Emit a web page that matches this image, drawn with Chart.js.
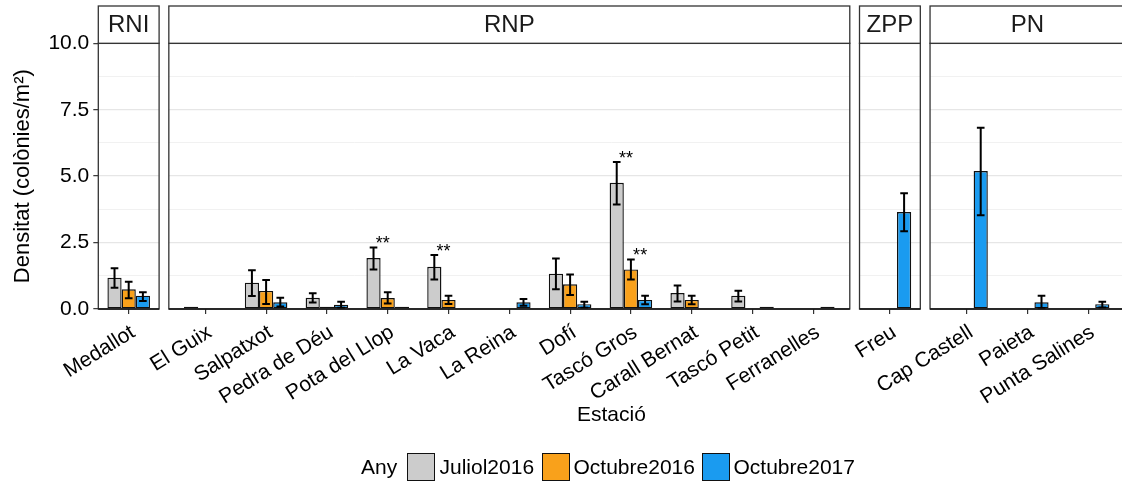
<!DOCTYPE html>
<html>
<head>
<meta charset="utf-8">
<script src="https://cdn.jsdelivr.net/npm/chart.js@4/dist/chart.umd.min.js"></script>
<style>
html,body{margin:0;padding:0;background:#fff;overflow:hidden;width:1122px;height:483px;}
#wrap{position:relative;width:1122px;height:483px;overflow:hidden;font-family:'Liberation Sans',Arial,sans-serif;}
#c{position:absolute;left:0;top:0;width:1130px;height:483px;}
.t{position:absolute;font-size:21px;line-height:24px;color:#000;white-space:nowrap;}
.k{position:absolute;width:28px;height:28px;box-sizing:border-box;border:1.6px solid #111;}
</style>
</head>
<body>
<div id="wrap">
<canvas id="c" width="1130" height="483"></canvas>
<div class="t" style="left:361px;top:455px;">Any</div>
<div class="k" style="left:406.5px;top:452.5px;background:#CCCCCC;"></div>
<div class="t" style="left:439.5px;top:455px;">Juliol2016</div>
<div class="k" style="left:542px;top:452.5px;background:#F9A11B;"></div>
<div class="t" style="left:573.5px;top:455px;">Octubre2016</div>
<div class="k" style="left:701.5px;top:452.5px;background:#1A9BF0;"></div>
<div class="t" style="left:733.5px;top:455px;">Octubre2017</div>
</div>
<script>
// ---------------- DATA ----------------
const stations = ['Medallot','El Guix','Salpatxot','Pedra de Déu','Pota del Llop','La Vaca','La Reina','Dofí','Tascó Gros','Carall Bernat','Tascó Petit','Ferranelles','Freu','Cap Castell','Paieta','Punta Salines'];
const stationPanel = ['RNI','RNP','RNP','RNP','RNP','RNP','RNP','RNP','RNP','RNP','RNP','RNP','ZPP','PN','PN','PN'];
const panelNames = ['RNI','RNP','ZPP','PN'];
const seriesNames = ['Juliol2016','Octubre2016','Octubre2017'];

const juliol2016     = [1.18, 0.08, 0.99, 0.42, 1.92, 1.59, null, 1.33, 4.75, 0.60, 0.50, null, null, null, null, null];
const juliol2016Low  = [0.80, null, 0.49, 0.24, 1.49, 1.11, null, 0.74, 3.93, 0.28, 0.28, null, null, null, null, null];
const juliol2016High = [1.53, null, 1.46, 0.59, 2.31, 2.03, null, 1.90, 5.53, 0.88, 0.69, null, null, null, null, null];
const juliol2016Sig  = ['', '', '', '', '**', '**', '', '', '**', '', '', '', '', '', '', ''];

const octubre2016     = [0.74, null, 0.68, 0.08, 0.41, 0.34, null, 0.93, 1.49, 0.34, null, null, null, null, null, null];
const octubre2016Low  = [0.40, null, 0.19, null, 0.21, 0.19, null, 0.53, 1.11, 0.18, null, null, null, null, null, null];
const octubre2016High = [1.03, null, 1.09, null, 0.63, 0.50, null, 1.30, 1.86, 0.50, null, null, null, null, null, null];
const octubre2016Sig  = ['', '', '', '', '', '', '', '', '**', '', '', '', '', '', '', ''];

const octubre2017     = [0.50, null, 0.25, 0.16, 0.08, null, 0.25, 0.18, 0.34, null, 0.08, 0.08, 3.65, 5.19, 0.25, 0.18];
const octubre2017Low  = [0.30, null, 0.09, 0.05, null, null, 0.12, 0.05, 0.18, null, null, null, 2.93, 3.53, 0.03, 0.06];
const octubre2017High = [0.63, null, 0.42, 0.27, null, null, 0.38, 0.27, 0.50, null, null, null, 4.36, 6.82, 0.50, 0.27];
const octubre2017Sig  = ['', '', '', '', '', '', '', '', '', '', '', '', '', '', '', ''];

const yTickMin = 0, yTickMax = 10, yMajorStep = 2.5;
const yTitle = 'Densitat (colònies/m²)';
const xTitle = 'Estació';

// ---------------- STYLE / LAYOUT ----------------
const seriesColors = ['#CCCCCC', '#F9A11B', '#1A9BF0'];
const FONT = "'Liberation Sans', Arial, sans-serif";
const GAP = 0.16;           // gap between facet panels, in category units
const STRIP_TOP = 6;

const values = [juliol2016, octubre2016, octubre2017];
const lows = [juliol2016Low, octubre2016Low, octubre2017Low];
const highs = [juliol2016High, octubre2016High, octubre2017High];
const sigs = [juliol2016Sig, octubre2016Sig, octubre2017Sig];

// facet layout in category units
const panelLayout = [];
const stationX = [];
let cursor = 0;
panelNames.forEach(p => {
  const idx = stations.map((s, i) => i).filter(i => stationPanel[i] === p);
  const exp = idx.length === 1 ? 0.5 : 0.6;
  const start = cursor;
  idx.forEach((gi, k) => { stationX[gi] = start + exp + k; });
  const end = start + 2 * exp + idx.length - 1;
  panelLayout.push({ name: p, start, end });
  cursor = end + GAP;
});
const xMax = cursor - GAP;

Chart.defaults.font.family = FONT;
Chart.defaults.color = '#000';

const isMajor = v => Math.abs(v / yMajorStep - Math.round(v / yMajorStep)) < 1e-9;

const panelPlugin = {
  id: 'panels',
  beforeDatasetsDraw(chart) {
    const { ctx, chartArea: a, scales: { x } } = chart;
    ctx.save();
    ctx.fillStyle = '#fff';
    for (let i = 0; i < panelLayout.length - 1; i++) {
      const l = x.getPixelForValue(panelLayout[i].end);
      const r = x.getPixelForValue(panelLayout[i + 1].start);
      ctx.fillRect(l, a.top - 2, r - l, a.bottom - a.top + 4);
    }
    ctx.restore();
  },
  afterDatasetsDraw(chart) {
    const { ctx, scales: { y } } = chart;
    ctx.save();
    ctx.strokeStyle = '#000';
    ctx.fillStyle = '#000';
    ctx.lineWidth = 2;
    ctx.font = '18px ' + FONT;
    ctx.textAlign = 'center';
    ctx.textBaseline = 'alphabetic';
    chart.data.datasets.forEach((ds, s) => {
      const meta = chart.getDatasetMeta(s);
      meta.data.forEach((bar, i) => {
        const lo = lows[s][i], hi = highs[s][i];
        if (values[s][i] == null || lo == null || hi == null) return;
        const cx = bar.x, yl = y.getPixelForValue(lo), yh = y.getPixelForValue(hi);
        const cap = bar.width * 0.27;
        ctx.beginPath();
        ctx.moveTo(cx, yl); ctx.lineTo(cx, yh);
        ctx.moveTo(cx - cap, yl); ctx.lineTo(cx + cap, yl);
        ctx.moveTo(cx - cap, yh); ctx.lineTo(cx + cap, yh);
        ctx.stroke();
        if (sigs[s][i]) ctx.fillText(sigs[s][i], cx + bar.width * 0.65, yh + 1.5);
      });
    });
    ctx.restore();
  },
  afterDraw(chart) {
    const { ctx, chartArea: a, scales: { x } } = chart;
    ctx.save();
    panelLayout.forEach(p => {
      const l = x.getPixelForValue(p.start), r = x.getPixelForValue(p.end);
      ctx.strokeStyle = '#333';
      ctx.lineWidth = 1.3;
      ctx.strokeRect(l, a.top, r - l, a.bottom - a.top);
      ctx.strokeStyle = '#111';
      ctx.lineWidth = 1.6;
      ctx.beginPath(); ctx.moveTo(l, a.bottom); ctx.lineTo(r, a.bottom); ctx.stroke();
      ctx.fillStyle = '#fff';
      ctx.fillRect(l, STRIP_TOP, r - l, a.top - STRIP_TOP);
      ctx.strokeStyle = '#333';
      ctx.lineWidth = 1.3;
      ctx.strokeRect(l, STRIP_TOP, r - l, a.top - STRIP_TOP);
      ctx.fillStyle = '#1a1a1a';
      ctx.font = '24px ' + FONT;
      ctx.textAlign = 'center';
      ctx.textBaseline = 'middle';
      ctx.fillText(p.name, (l + r) / 2, (STRIP_TOP + a.top) / 2 + 1);
    });
    ctx.restore();
  }
};

const datasets = seriesNames.map((name, s) => ({
  label: name,
  data: stations.map((st, i) => ({ x: stationX[i], y: values[s][i] })),
  backgroundColor: seriesColors[s],
  borderColor: '#111',
  borderWidth: 1.4,
  borderSkipped: false,
  inflateAmount: 0,
  categoryPercentage: 0.7,
  barPercentage: 1.0
}));

new Chart(document.getElementById('c'), {
  type: 'bar',
  data: { datasets },
  plugins: [panelPlugin],
  options: {
    responsive: false,
    animation: false,
    events: [],
    layout: { autoPadding: false, padding: { left: 0, right: 5.4, top: 43.3, bottom: 0 } },
    plugins: { legend: { display: false }, tooltip: { enabled: false } },
    scales: {
      x: {
        type: 'linear',
        offset: false,
        min: 0,
        max: xMax,
        afterBuildTicks: s => { s.ticks = stationX.map(v => ({ value: v })); },
        afterFit: s => { s.height = 174; s.paddingLeft = 0; s.paddingRight = 0; },
        ticks: {
          autoSkip: false,
          minRotation: 32,
          maxRotation: 32,
          labelOffset: 4.5,
          padding: 6,
          color: '#000',
          font: { size: 21 },
          callback: (v, i) => stations[i]
        },
        grid: { display: true, offset: false, drawOnChartArea: false, drawTicks: true, tickLength: 5, tickColor: '#333', lineWidth: 1.2 },
        border: { display: false },
        title: { display: true, text: xTitle, color: '#000', font: { size: 21 }, padding: { top: 0, bottom: 55 } }
      },
      y: {
        min: yTickMin,
        max: yTickMax,
        afterFit: s => { s.width = 98.3; s.paddingTop = 0; s.paddingBottom = 0; },
        ticks: {
          stepSize: yMajorStep / 2,
          padding: 4,
          color: '#000',
          font: { size: 21 },
          callback: v => isMajor(v) ? v.toFixed(1) : ''
        },
        grid: {
          drawTicks: true,
          tickLength: 5,
          color: c => (c.tick && isMajor(c.tick.value)) ? '#E6E6E6' : '#EFEFEF',
          lineWidth: c => (c.tick && isMajor(c.tick.value)) ? 1.3 : 0.9,
          tickColor: c => (c.tick && isMajor(c.tick.value)) ? '#333' : 'rgba(0,0,0,0)',
          tickWidth: 1.2
        },
        border: { display: false },
        title: { display: true, text: yTitle, color: '#000', font: { size: 22 }, padding: { top: 10, bottom: 0 } }
      }
    }
  }
});
</script>
</body>
</html>
